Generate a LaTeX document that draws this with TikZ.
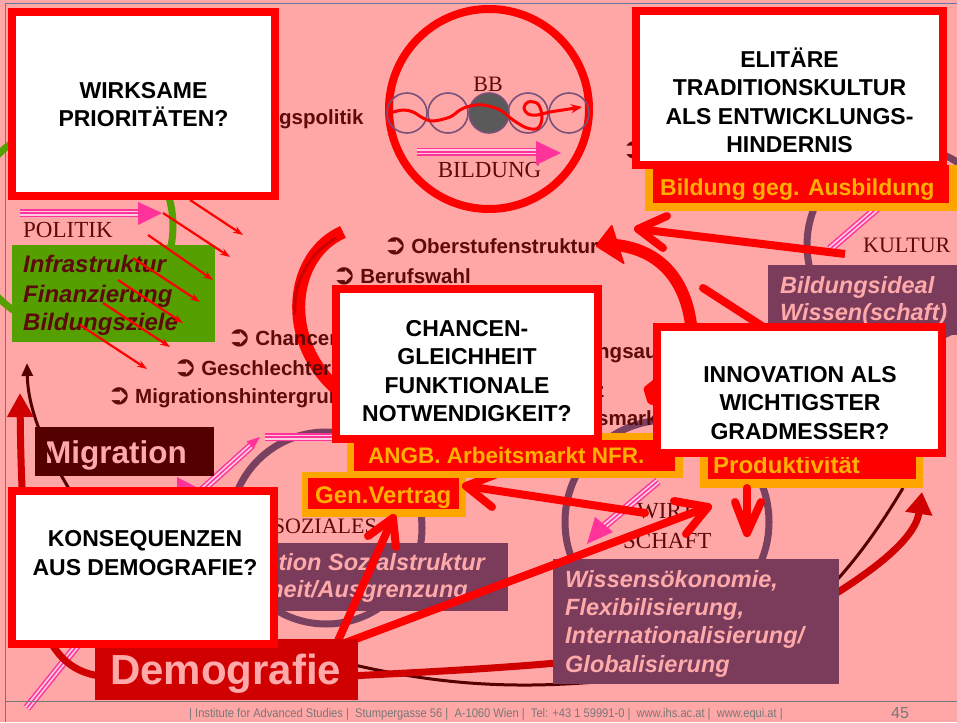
\documentclass[tikz,border=0pt]{standalone}
\usepackage{graphicx}
\usepackage{fontspec}
\setmainfont{Liberation Sans}
\newfontfamily\serf{Liberation Serif}
\newfontfamily\djv{DejaVu Sans}
\usetikzlibrary{arrows.meta}
\definecolor{bgpink}{RGB}{255,166,166}
\definecolor{qred}{RGB}{255,0,0}
\definecolor{dred}{RGB}{208,0,0}
\definecolor{maroon}{RGB}{92,10,10}
\definecolor{migbg}{RGB}{85,0,0}
\definecolor{orangeb}{RGB}{255,165,0}
\definecolor{orangetxt}{RGB}{255,176,0}
\definecolor{purplebox}{RGB}{123,59,91}
\definecolor{purplering}{RGB}{122,64,96}
\definecolor{bbring}{RGB}{120,80,120}
\definecolor{bbfill}{RGB}{90,90,90}
\definecolor{greenb}{RGB}{85,160,0}
\definecolor{hotpink}{RGB}{255,51,153}
\definecolor{palepink}{RGB}{255,205,225}
\definecolor{pinktext}{RGB}{255,170,170}
\definecolor{footgray}{RGB}{120,120,120}
\definecolor{framecol}{RGB}{100,120,165}
\newcommand{\myfs}[2]{\fontsize{#1pt}{#2pt}\selectfont}
\newcommand{\bul}{\raisebox{-1.5pt}{\scalebox{1.4}{\djv ➲}}\hspace{4pt}}
\begin{document}
\begin{tikzpicture}[x=1pt,y=-1pt,
  qbox/.style={draw=qred,line width=8pt,fill=white,inner sep=0pt},
  qtext/.style={font=\myfs{23}{28.5}\bfseries,align=center,inner sep=0pt,text=black},
  fbox/.style={inner sep=0pt,draw=none},
  lbl/.style={inner sep=0pt,anchor=base west},
  bulletlbl/.style={inner sep=0pt,anchor=base west,text=maroon,font=\myfs{20.5}{24}\bfseries},
  serlbl/.style={inner sep=0pt,text=maroon,font=\serf\myfs{23}{26}},
  boxlbl/.style={inner sep=0pt,anchor=base west,text=orangetxt,font=\myfs{23}{26}\bfseries},
  itlbl/.style={inner sep=0pt,text=pinktext,font=\myfs{23.5}{28}\bfseries\itshape},
  ring/.style={draw=purplering,line width=7pt},
  redthick/.style={draw=qred,line width=8pt,line cap=round,line join=round},
  thinarr/.style={draw=qred,line width=2.2pt,-{Stealth[length=10pt,width=7pt]}},
  pinkline/.style={draw=hotpink,line width=8pt,postaction={draw=palepink,line width=5pt},postaction={draw=hotpink,line width=1.5pt}},
  pinkhead/.style={fill=hotpink,draw=none}]
\useasboundingbox (0,0) rectangle (957,722);
\fill[bgpink] (0,0) rectangle (957,722);
\draw[framecol,line width=1.2pt] (5.5,722) -- (5.5,3.5) -- (957,3.5);

% rings
\draw[draw=greenb,line width=7pt] (71,226) circle[radius=102];
\draw[ring] (905,245) circle[radius=98];
\draw[ring] (326,528) circle[radius=96];
\draw[ring] (667,522) circle[radius=102];

% bottom curves (behind the boxes)
\draw[draw=migbg,line width=3pt] (350,664) .. controls (470,692) and (560,690) .. (700,670) .. controls (800,640) and (860,560) .. (903,488);
\draw[draw=dred,line width=7pt,-{Triangle[length=22pt,width=26pt]}] (350,676) .. controls (500,668) and (700,660) .. (800,615) .. controls (870,575) and (915,540) .. (922,492);

% BB circle
\draw[draw=qred,line width=8pt] (489,109) circle[radius=100];
\foreach \cx in {407,448,528,569} \draw[draw=bbring,line width=1.6pt] (\cx,113) circle[radius=20];
\draw[draw=bbring,line width=1.6pt,fill=bbfill] (489,113) circle[radius=20];
\node[serlbl,anchor=base,font=\serf\myfs{22}{24}] (bb) at (488,92) {BB};
\node[serlbl,anchor=base] (bildung) at (489.5,177) {BILDUNG};
\draw[draw=qred,line width=3pt,line cap=round,-{Stealth[length=11pt,width=9pt]}] plot[smooth,tension=0.6] coordinates {(390,113) (403,110) (413,112) (423,118) (433,121) (450,117) (460,110) (470,106) (483,105) (500,110) (513,120) (527,128) (538,128) (542,117) (538,104) (528,102) (524,108) (528,114) (537,115) (550,112) (563,110) (582,107)};

% pink arrows
\coordinate (pbs) at (417,152); \coordinate (pbe) at (538,152);
\draw[pinkline] (pbs) -- (pbe);
\fill[pinkhead] (536,141) -- (561,153) -- (536,165) -- cycle;
\coordinate (pps) at (20,213); \coordinate (ppe) at (140,213);
\draw[pinkline] (pps) -- (ppe);
\fill[pinkhead] (138,202) -- (162,213) -- (138,225) -- cycle;
\coordinate (pks) at (830,249); \coordinate (pke) at (882,204);
\draw[pinkline] (pks) -- (pke);
\coordinate (pss) at (27,708); \coordinate (psm) at (200,492); \coordinate (pse) at (252,445);
\draw[pinkline] (pss) -- (psm) -- (pse);
\fill[pinkhead] (260,437) -- (246.6,441.3) -- (253.4,448.7) -- cycle;
\fill[pinkhead] (177,477) -- (196,487) -- (177,487) -- cycle;
\coordinate (phs) at (265,437); \coordinate (phe) at (338,437);
\draw[pinkline] (phs) -- (phe);
\coordinate (pws) at (658,481); \coordinate (pwe) at (602,528);
\draw[pinkline] (pws) -- (pwe);
\fill[pinkhead] (587,544) -- (595,517) -- (613,532) -- cycle;

% coloured boxes
\node[fbox,fill=greenb,minimum width=203pt,minimum height=97pt] (green) at (113.5,293.5) {};
\node[fbox,fill=purplebox,minimum width=189pt,minimum height=70pt] (bideal) at (862.5,300) {};
\node[fbox,fill=purplebox,minimum width=235pt,minimum height=68pt] (soz) at (390.5,577) {};
\node[fbox,fill=purplebox,minimum width=286pt,minimum height=125pt] (wiss) at (696,621.5) {};
\node[fbox,fill=migbg,minimum width=179pt,minimum height=49pt] (mig) at (124.5,451.5) {};
\node[fbox,fill=orangeb,minimum width=312pt,minimum height=46pt] (bgaO) at (801,188) {};
\node[fbox,fill=qred,minimum width=296pt,minimum height=38pt] (bgaR) at (801,184) {};
\node[fbox,fill=orangeb,minimum width=164pt,minimum height=45pt] (genO) at (384,494.5) {};
\node[fbox,fill=qred,minimum width=151pt,minimum height=31pt] (genR) at (383.5,493.5) {};
\node[fbox,fill=orangeb,minimum width=223pt,minimum height=43pt] (prodO) at (811.5,466.5) {};
\node[fbox,fill=qred,minimum width=208pt,minimum height=34pt] (prodR) at (812,462) {};

% serif labels
\node[serlbl,anchor=base west] (politik) at (23,237) {POLITIK};
\node[serlbl,anchor=base west,font=\serf\myfs{22}{24}] (kultur) at (863,252) {KULTUR};
\node[serlbl,anchor=base east,font=\serf\myfs{22}{24}] (soziales) at (377,533) {SOZIALES};
\node[serlbl,anchor=base west] (wirt1) at (637,518) {WIRT-};
\node[serlbl,anchor=base west] (wirt2) at (623,548) {SCHAFT};

% big arcs
\draw[draw=qred,line width=13pt] (343,232) .. controls (290,255) and (280,340) .. (338,390);
\draw[draw=dred,line width=3pt] (336,238) .. controls (302,258) and (293,290) .. (295,315);
\draw[draw=qred,line width=12pt] (692,334) .. controls (688,280) and (660,250) .. (616,245);
\fill[qred,rounded corners=2pt] (612,224) -- (595,246) -- (625,265) -- cycle;
\fill[qred,rounded corners=2pt] (658,376) -- (643,388) -- (648,404) -- (658,406) -- cycle;

% bullet texts
\node[bulletlbl] (bpol) at (279,125) {gspolitik};
\node[bulletlbl] (bober) at (383,253) {\bul Oberstufenstruktur};
\node[bulletlbl] (bberuf) at (332,283) {\bul Berufswahl};
\node[bulletlbl] (bchanc) at (227,345) {\bul Chancen};
\node[bulletlbl] (bgesch) at (173,375) {\bul Geschlechter};
\node[bulletlbl] (bmigr) at (107,403) {\bul Migrationshintergrund};
\node[bulletlbl] (baufst) at (597,358) {ngsau};
\node[bulletlbl] (bkomp) at (594,397) {z};
\node[bulletlbl] (barbm) at (597,425) {smarkt};
\node[bulletlbl] (bbegr) at (622,157) {\bul};

% box texts
\node[inner sep=0pt,anchor=base west,text=maroon,font=\myfs{24}{28}\bfseries\itshape] (g1) at (23,272) {Infrastruktur};
\node[inner sep=0pt,anchor=base west,text=maroon,font=\myfs{24}{28}\bfseries\itshape] (g2) at (23,302) {Finanzierung};
\node[inner sep=0pt,anchor=base west,text=maroon,font=\myfs{24}{28}\bfseries\itshape] (g3) at (23,330) {Bildungsziele};
\node[itlbl,anchor=base west] (bi1) at (780,293) {Bildungsideal};
\node[itlbl,anchor=base west] (bi2) at (780,320) {Wissen(schaft)};
\node[itlbl,anchor=base east] (s1) at (485,570) {tion Sozialstruktur};
\node[itlbl,anchor=base east] (s2) at (468,597) {heit/Ausgrenzung};
\node[itlbl,anchor=base west] (w1) at (565,587) {Wissensökonomie,};
\node[itlbl,anchor=base west] (w2) at (565,615) {Flexibilisierung,};
\node[itlbl,anchor=base west] (w3) at (565,643) {Internationalisierung/};
\node[itlbl,anchor=base west] (w4) at (565,672) {Globalisierung};
\node[lbl,text=pinktext,font=\myfs{31.5}{34}\bfseries] (migT) at (45,463) {Migration};
\node[boxlbl] (bgaT) at (660,195) {Bildung geg. Ausbildung};
\node[boxlbl,font=\myfs{24}{26}\bfseries] (genT) at (315,503) {Gen.Vertrag};
\node[boxlbl,font=\myfs{24}{26}\bfseries] (prodT) at (713,473) {Produktivität};

% thin politik arrows
\draw[thinarr] (190,200) -- (243,235);
\draw[thinarr] (163,213) -- (230,257);
\draw[thinarr] (148,235) -- (213,280);
\draw[thinarr] (133,258) -- (200,302);
\draw[thinarr] (118,280) -- (183,323);
\draw[thinarr] (103,303) -- (170,347);
\draw[thinarr] (80,325) -- (147,369);

% left arrows
\draw[draw=migbg,line width=3pt,-{Triangle[length=13pt,width=11pt]}] (74,497) .. controls (45,450) and (28,410) .. (27,363);
\draw[draw=dred,line width=7pt,-{Triangle[length=24pt,width=25pt]}] (100,676) .. controls (40,668) and (22,600) .. (20,393);

% thick straight arrows
\coordinate (a1s) at (845,254); \coordinate (a1e) at (638,229);
\draw[redthick,line cap=butt] (a1s) -- (a1e);
\draw[redthick] (667,216) -- (a1e) -- (663,248);
\coordinate (a2s) at (747,488); \coordinate (a2e) at (747,533);
\draw[redthick] (a2s) -- (a2e);
\draw[redthick] (735,502) -- (a2e) -- (761,502);
\coordinate (a3s) at (337,643); \coordinate (a3e) at (393,518);
\draw[redthick] (a3s) -- (a3e);
\draw[redthick] (368,536) -- (a3e) -- (396,547);
\coordinate (a4s) at (345,643); \coordinate (a4e) at (708,507);
\draw[redthick] (a4s) -- (a4e);
\draw[redthick] (674,501) -- (a4e) -- (686,534);
\coordinate (a5s) at (645,513); \coordinate (a5e) at (466,486);
\draw[redthick] (a5s) -- (a5e);
\draw[redthick] (492,507) -- (a5e) -- (497,474);
\draw[redthick] (703,288) -- (765,328);

% Demografie
\node[fbox,fill=dred,minimum width=263pt,minimum height=61pt] (demo) at (226.5,669.5) {};
\node[lbl,text=pinktext,font=\myfs{42}{44}\bfseries] (demoT) at (110,684) {Demografie};

% ANGB (under Chancen box)
\node[fbox,fill=orangeb,minimum width=336pt,minimum height=45pt] (angbO) at (515,455.5) {};
\node[fbox,fill=qred,minimum width=321pt,minimum height=31pt] (angbR) at (514.5,455.5) {};
\node[boxlbl,font=\myfs{22.5}{26}\bfseries] (angbT) at (368,463) {ANGB. Arbeitsmarkt NFR.};

% question boxes
\node[qbox,minimum width=263pt,minimum height=184pt] (wirk) at (143.5,104) {};
\node[qtext] (wirkT) at (143.5,104.5) {WIRKSAME\\PRIORITÄTEN?};
\node[qbox,minimum width=307pt,minimum height=154pt] (elit) at (789.5,88) {};
\node[qtext] (elitT) at (789.5,100.5) {ELITÄRE\\TRADITIONSKULTUR\\ALS ENTWICKLUNGS-\\HINDERNIS};
\node[qbox,minimum width=262pt,minimum height=150pt] (chanc) at (467,364) {};
\node[qtext] (chancT) at (467,371) {CHANCEN-\\GLEICHHEIT\\FUNKTIONALE\\NOTWENDIGKEIT?};
\node[qbox,minimum width=285pt,minimum height=126pt] (innov) at (799.5,390) {};
\node[qtext] (innovT) at (800,403) {INNOVATION ALS\\WICHTIGSTER\\GRADMESSER?};
\node[qbox,minimum width=262pt,minimum height=153pt] (kons) at (143,567.5) {};
\node[qtext] (konsT) at (145,553) {KONSEQUENZEN\\AUS DEMOGRAFIE?};

% footer
\draw[draw=footgray,line width=1pt] (5,701) -- (957,701);
\node[inner sep=0pt,anchor=base,text=footgray,font=\myfs{12.5}{14}] (foot) at (486,717) {\scalebox{0.89}[1]{| Institute for Advanced Studies |\ \ Stumpergasse 56 |\ \ A-1060 Wien |\ \ Tel: +43 1 59991-0 |\ \ www.ihs.ac.at |\ \ www.equi.at |}};
\node[inner sep=0pt,anchor=base,text=footgray,font=\myfs{16}{18}] (page) at (900,718) {45};
\end{tikzpicture}
\end{document}
